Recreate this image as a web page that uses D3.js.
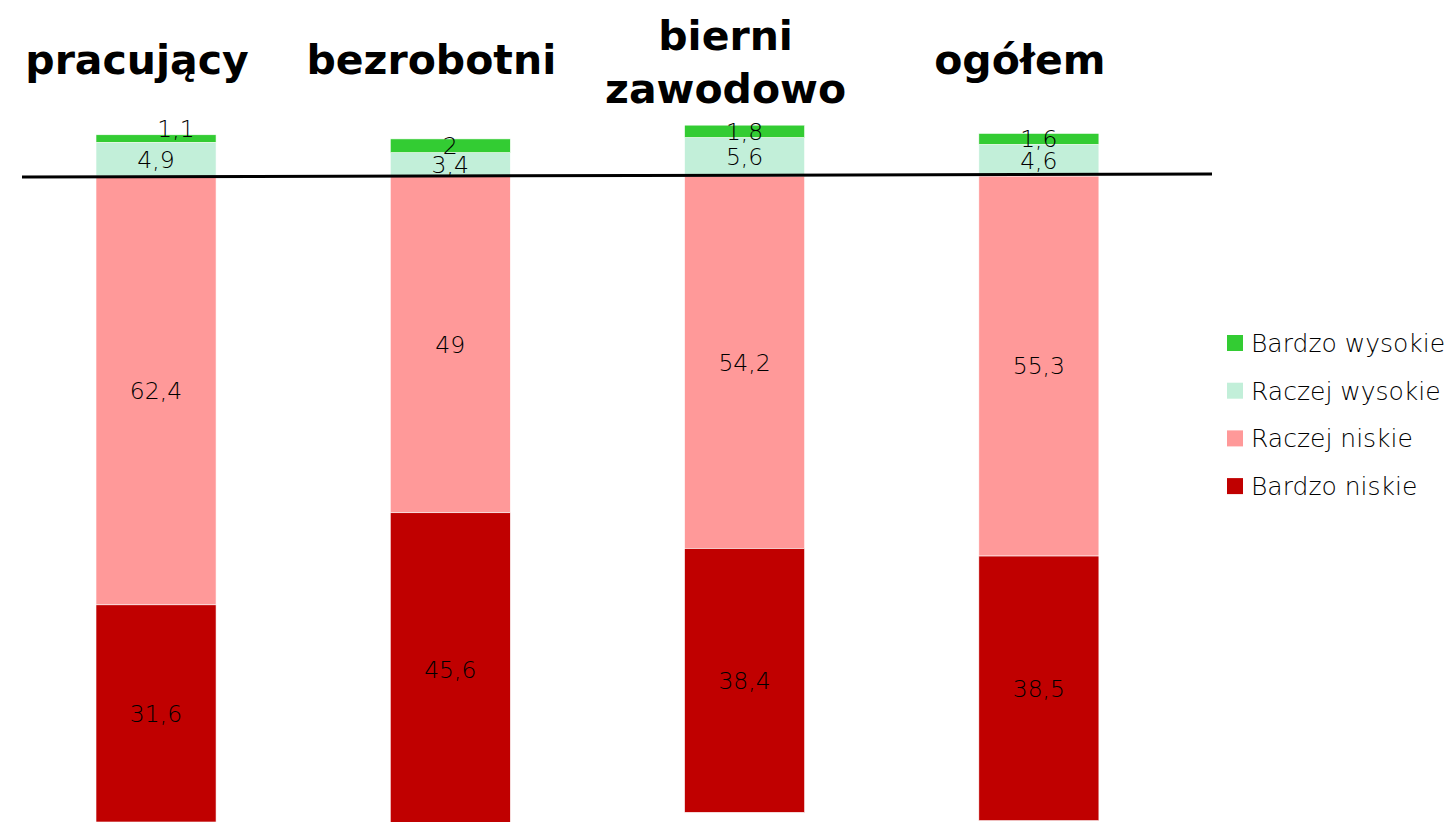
<!DOCTYPE html>
<html><head><meta charset="utf-8">
<script src="https://cdn.jsdelivr.net/npm/d3@7"></script>
<style>body{margin:0;background:#fff;} svg{display:block;}</style>
</head><body>
<svg id="chart" width="1447" height="822"></svg>
<script>
const categories = ["pracujący", "bezrobotni", "bierni zawodowo", "ogółem"];
const titleLines = [["pracujący"], ["bezrobotni"], ["bierni", "zawodowo"], ["ogółem"]];
const bardzoWysokie = [1.1, 2, 1.8, 1.6];
const raczejWysokie = [4.9, 3.4, 5.6, 4.6];
const raczejNiskie = [62.4, 49, 54.2, 55.3];
const bardzoNiskie = [31.6, 45.6, 38.4, 38.5];
const seriesNames = ["Raczej niskie", "Bardzo niskie", "Raczej wysokie", "Bardzo wysokie"];
const legendOrder = ["Bardzo wysokie", "Raczej wysokie", "Raczej niskie", "Bardzo niskie"];
const colors = {"Bardzo wysokie": "#33CC33", "Raczej wysokie": "#C2EFD9", "Raczej niskie": "#FF9999", "Bardzo niskie": "#C00000"};

const rows = categories.map((c, i) => ({
  cat: c,
  "Raczej niskie": -raczejNiskie[i],
  "Bardzo niskie": -bardzoNiskie[i],
  "Raczej wysokie": raczejWysokie[i],
  "Bardzo wysokie": bardzoWysokie[i]
}));

const svg = d3.select("#chart");
const labelFont = "'DejaVu Sans', sans-serif";
const titleFont = "'DejaVu Sans', sans-serif";

const x = d3.scaleBand().domain(categories).range([96, 96 + 3 * 294.3 + 120]).paddingInner(0.592).paddingOuter(0);
const y = d3.scaleLinear().domain([0, -94]).range([176, 822]);

const stack = d3.stack().keys(seriesNames).offset(d3.stackOffsetDiverging);
const stacked = stack(rows);

const g = svg.append("g");
stacked.forEach(s => {
  g.append("g").selectAll("rect").data(s).join("rect")
    .attr("x", d => x(d.data.cat))
    .attr("width", x.bandwidth())
    .attr("y", d => y(Math.max(d[0], d[1])))
    .attr("height", d => Math.abs(y(d[0]) - y(d[1])))
    .attr("fill", colors[s.key])
    .attr("stroke", "#fff").attr("stroke-width", 0.6);
});

// baseline line
svg.append("line")
  .attr("x1", 22).attr("x2", 1212)
  .attr("y1", y(0) + 1).attr("y2", y(0) - 2)
  .attr("stroke", "#000").attr("stroke-width", 3);

// data labels
stacked.forEach(s => {
  g.append("g").selectAll("text").data(s).join("text")
    .attr("x", d => x(d.data.cat) + x.bandwidth() / 2 + (s.key === "Bardzo wysokie" && d.data.cat === "pracujący" ? 20 : 0))
    .attr("y", d => (y(d[0]) + y(d[1])) / 2 - (s.key === "Bardzo wysokie" && d.data.cat === "pracujący" ? 10 : 0))
    .attr("dy", "0.36em")
    .attr("text-anchor", "middle")
    .attr("font-family", labelFont)
    .attr("font-weight", 200)
    .attr("font-size", 23.5)
    .attr("fill", "#000")
    .text(d => String(Math.abs(d[1] - d[0]).toFixed(1)).replace(/\.0$/, "").replace(".", ","));
});

// titles
categories.forEach((c, i) => {
  const lines = titleLines[i];
  const cx = x(c) + x.bandwidth() / 2 - 19;
  const t = svg.append("text")
    .attr("text-anchor", "middle")
    .attr("font-family", titleFont)
    .attr("font-weight", "bold")
    .attr("font-size", 41)
    .attr("fill", "#000");
  const base = lines.length === 1 ? 74 : 50;
  lines.forEach((l, j) => {
    t.append("tspan").attr("x", cx).attr("y", base + j * 53).text(l);
  });
});

// legend
const lg = svg.append("g").attr("transform", "translate(1227,343)");
legendOrder.forEach((k, i) => {
  const row = lg.append("g").attr("transform", `translate(0,${i * 47.7})`);
  row.append("rect").attr("x", 0).attr("y", -8).attr("width", 16).attr("height", 16).attr("fill", colors[k]);
  row.append("text").attr("x", 24).attr("y", 0).attr("dy", "0.36em")
    .attr("font-family", labelFont).attr("font-weight", 200).attr("font-size", 25).attr("fill", "#000").text(k);
});
</script>
</body></html>
